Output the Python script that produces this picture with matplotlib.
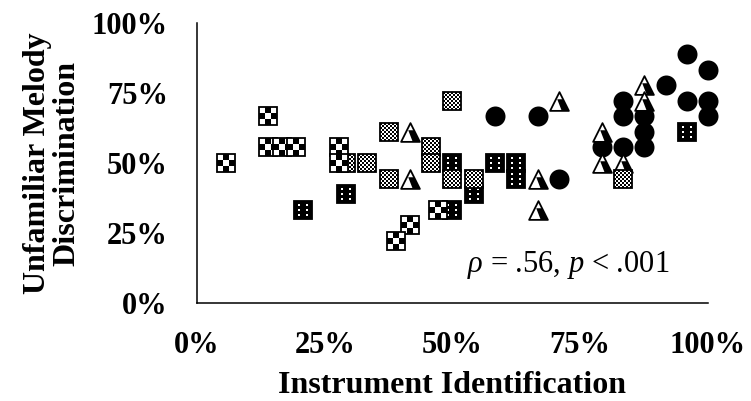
"""
Instrument identification vs. unfamiliar melody discrimination scatter
"""
import matplotlib
matplotlib.use('Agg')
import matplotlib.pyplot as plt
from matplotlib.path import Path
from matplotlib.ticker import PercentFormatter

plt.rcParams['font.family'] = ['Liberation Serif', 'DejaVu Serif']
plt.rcParams['mathtext.fontset'] = 'custom'
plt.rcParams['mathtext.rm'] = 'Liberation Serif'
plt.rcParams['mathtext.it'] = 'Liberation Serif:italic'

# group values (proportions)
circle_x = [0.583, 0.667, 0.708, 0.958, 1.0, 0.917, 0.833, 0.958, 1.0, 1.0,
            0.833, 0.875, 0.875, 0.875, 0.833, 0.792]
circle_y = [0.667, 0.667, 0.444, 0.889, 0.833, 0.778, 0.722, 0.722, 0.722, 0.667,
            0.667, 0.667, 0.611, 0.556, 0.556, 0.556]

tri_x = [0.417, 0.417, 0.708, 0.667, 0.667, 0.875, 0.875, 0.792, 0.792, 0.833]
tri_y = [0.611, 0.444, 0.722, 0.444, 0.333, 0.778, 0.722, 0.611, 0.500, 0.500]

dot_x = [0.208, 0.292, 0.500, 0.542, 0.500, 0.583, 0.625, 0.625, 0.958]
dot_y = [0.333, 0.389, 0.333, 0.389, 0.500, 0.500, 0.500, 0.444, 0.611]

grey_x = [0.292, 0.333, 0.375, 0.375, 0.500, 0.458, 0.458, 0.500, 0.542, 0.833]
grey_y = [0.500, 0.500, 0.611, 0.444, 0.722, 0.556, 0.500, 0.444, 0.444, 0.444]

check_x = [0.056, 0.139, 0.139, 0.167, 0.194, 0.278, 0.278, 0.472, 0.417, 0.389]
check_y = [0.500, 0.667, 0.556, 0.556, 0.556, 0.556, 0.500, 0.333, 0.278, 0.222]

ticks = [0, 0.25, 0.5, 0.75, 1.0]


def poly_path(polys):
    verts, codes = [], []
    for p in polys:
        verts += list(p) + [p[0]]
        codes += [Path.MOVETO] + [Path.LINETO] * (len(p) - 1) + [Path.CLOSEPOLY]
    # zero-length anchors at the corners keep every overlay on the same scale
    verts += [(-0.5, -0.5), (-0.5, -0.5), (0.5, 0.5), (0.5, 0.5)]
    codes += [Path.MOVETO, Path.LINETO, Path.MOVETO, Path.LINETO]
    return Path(verts, codes)


def checker_cells(n, parity):
    w = 1.0 / n
    cells = []
    for i in range(n):
        for j in range(n):
            if (i + j) % 2 == parity:
                x0, y0 = -0.5 + i * w, -0.5 + j * w
                cells.append([(x0, y0), (x0 + w, y0), (x0 + w, y0 + w), (x0, y0 + w)])
    return cells


big_check = poly_path(checker_cells(3, 1))
fine_check = poly_path(checker_cells(9, 0))

dots = []
for dx in (-0.22, 0.22):
    for dy in (-0.28, 0.0, 0.28):
        s = 0.055
        dots.append([(dx - s, dy - s), (dx + s, dy - s), (dx + s, dy + s), (dx - s, dy + s)])
dot_path = poly_path(dots)

tri_outline = Path([(-0.5, -0.5), (0.5, -0.5), (0.0, 0.5), (-0.5, -0.5)],
                   [Path.MOVETO, Path.LINETO, Path.LINETO, Path.CLOSEPOLY])
tri_fill = poly_path([[(-0.12, 0.12), (0.19, 0.12), (0.5, -0.5), (0.12, -0.5)]])

fig = plt.figure(figsize=(7.51, 4.01), dpi=100)
ax = fig.add_axes([0.2623, 0.2444, 0.6804, 0.6982])

SQ = 13.5
EW = 1.3
z = 2.0


def draw(xs, ys, base, base_fc, over, over_c, size):
    global z
    for x, y in zip(xs, ys):
        ax.plot([x], [y], linestyle='none', marker=base, markersize=size,
                markerfacecolor=base_fc, markeredgecolor='black',
                markeredgewidth=EW, clip_on=False, zorder=z)
        ax.plot([x], [y], linestyle='none', marker=over, markersize=size,
                markerfacecolor=over_c, markeredgewidth=0,
                clip_on=False, zorder=z + 0.01)
        z += 0.02


for x, y in zip(circle_x, circle_y):
    ax.plot([x], [y], linestyle='none', marker='o', markersize=14.4,
            markerfacecolor='black', markeredgewidth=0, clip_on=False, zorder=z)
    z += 0.02
draw(tri_x, tri_y, tri_outline, 'white', tri_fill, 'black', 13.5)
draw(dot_x, dot_y, 's', 'black', dot_path, 'white', SQ)
draw(grey_x, grey_y, 's', 'white', fine_check, 'black', SQ)
draw(check_x, check_y, 's', 'white', big_check, 'black', SQ)

ax.set_xlim(0, 1)
ax.set_ylim(0, 1)
ax.set_xticks(ticks)
ax.set_yticks(ticks)
ax.xaxis.set_major_formatter(PercentFormatter(xmax=1, decimals=0))
ax.yaxis.set_major_formatter(PercentFormatter(xmax=1, decimals=0))
ax.tick_params(length=0, labelsize=22)
ax.tick_params(axis='y', pad=21)
ax.tick_params(axis='x', pad=20)
for lab in ax.get_xticklabels() + ax.get_yticklabels():
    lab.set_fontweight('bold')
for s in ('top', 'right'):
    ax.spines[s].set_visible(False)
for s in ('left', 'bottom'):
    ax.spines[s].set_linewidth(1.1)

ax.set_xlabel('Instrument Identification', fontsize=23, fontweight='bold', labelpad=8)
fig.text(52 / 751, 1 - 163 / 401, 'Unfamiliar Melody\nDiscrimination', rotation=90,
         ha='center', va='center', multialignment='center', linespacing=1.0,
         fontsize=23, fontweight='bold')

ax.text(0.727, 0.137, r'$\rho$ = .56, $p$ < .001', fontsize=22,
        ha='center', va='center', transform=ax.transAxes)

fig.savefig('out.png', dpi=100)
